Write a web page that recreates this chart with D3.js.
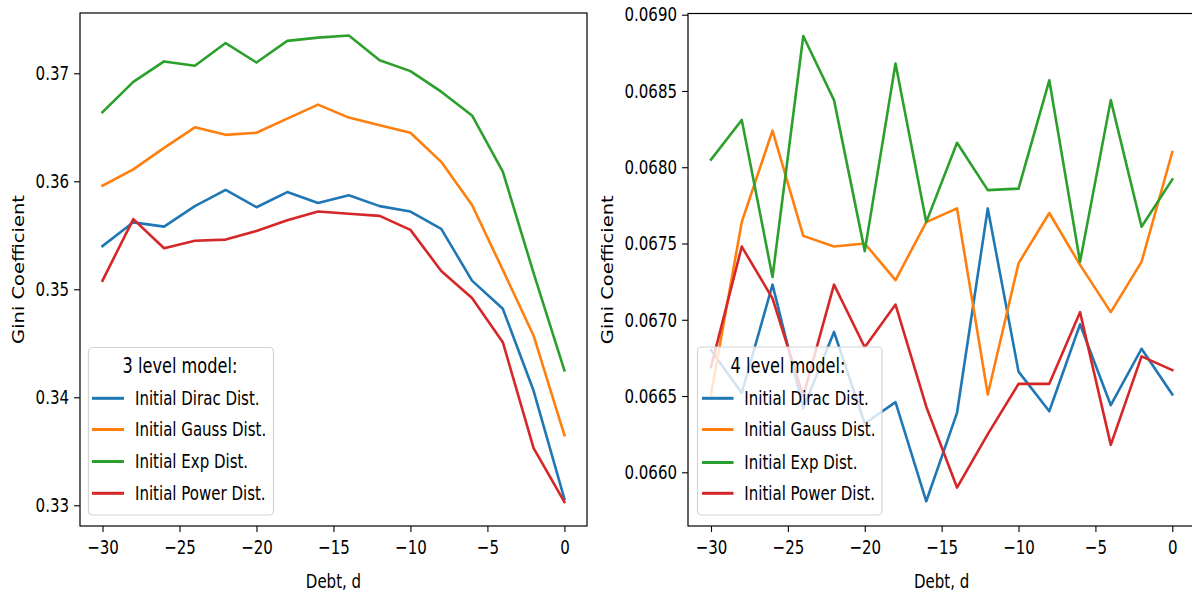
<!DOCTYPE html>
<html>
<head>
<meta charset="utf-8">
<script src="https://cdn.jsdelivr.net/npm/d3@7"></script>
<style>
  html, body { margin: 0; padding: 0; background: #fff; }
  svg { display: block; }
  text { font-family: "DejaVu Sans", sans-serif; fill: #000; }
</style>
</head>
<body>
<svg id="chart" width="1192" height="594"></svg>
<script>
// ---------------- data ----------------
const debt = [-30, -28, -26, -24, -22, -20, -18, -16, -14, -12, -10, -8, -6, -4, -2, 0];
const seriesNames = ["Initial Dirac Dist.", "Initial Gauss Dist.", "Initial Exp Dist.", "Initial Power Dist."];
const seriesColors = ["#1f77b4", "#ff7f0e", "#2ca02c", "#d62728"];

// 3 level model
const dirac3 = [0.3540, 0.3562, 0.3558, 0.3577, 0.3592, 0.3576, 0.3590, 0.3580, 0.3587, 0.3577, 0.3572, 0.3556, 0.3508, 0.3482, 0.3406, 0.3306];
const gauss3 = [0.3596, 0.3611, 0.3631, 0.3650, 0.3643, 0.3645, 0.3658, 0.3671, 0.3659, 0.3652, 0.3645, 0.3618, 0.3578, 0.3518, 0.3457, 0.3365];
const exp3   = [0.3664, 0.3692, 0.3711, 0.3707, 0.3728, 0.3710, 0.3730, 0.3733, 0.3735, 0.3712, 0.3702, 0.3683, 0.3661, 0.3609, 0.3515, 0.3425];
const power3 = [0.3508, 0.3565, 0.3538, 0.3545, 0.3546, 0.3554, 0.3564, 0.3572, 0.3570, 0.3568, 0.3555, 0.3517, 0.3492, 0.3451, 0.3353, 0.3303];

// 4 level model
const dirac4 = [0.06680, 0.06652, 0.06723, 0.06642, 0.06692, 0.06632, 0.06646, 0.06581, 0.06639, 0.06773, 0.06666, 0.06640, 0.06697, 0.06644, 0.06681, 0.06651];
const gauss4 = [0.06651, 0.06764, 0.06824, 0.06755, 0.06748, 0.06750, 0.06726, 0.06764, 0.06773, 0.06651, 0.06737, 0.06770, 0.06736, 0.06705, 0.06738, 0.06810];
const exp4   = [0.06805, 0.06831, 0.06728, 0.06886, 0.06844, 0.06745, 0.06868, 0.06764, 0.06816, 0.06785, 0.06786, 0.06857, 0.06738, 0.06844, 0.06761, 0.06792];
const power4 = [0.06669, 0.06748, 0.06714, 0.06650, 0.06723, 0.06682, 0.06710, 0.06643, 0.06590, 0.06625, 0.06658, 0.06658, 0.06705, 0.06618, 0.06676, 0.06667];

const xTicks = [-30, -25, -20, -15, -10, -5, 0];
const yTicks3 = [0.33, 0.34, 0.35, 0.36, 0.37];
const yTicks4 = [0.0660, 0.0665, 0.0670, 0.0675, 0.0680, 0.0685, 0.0690];
const xLabel = "Debt, d";
const yLabel = "Gini Coefficient";
const legendTitle3 = "3 level model:";
const legendTitle4 = "4 level model:";

// ---------------- drawing ----------------
const SX = 0.77;      // horizontal text squash seen in the reference
const FS = 19.5;      // font size
const FS_TITLE = 21;  // legend title size
const svg = d3.select("#chart");

function squashText(sel) {
  sel.each(function () {
    const t = d3.select(this);
    const x = +t.attr("x") || 0;
    t.attr("x", x / SX).attr("transform", `scale(${SX},1)`);
  });
}

function panel(cfg) {
  const g = svg.append("g");
  const x = d3.scaleLinear().domain([-30, 0]).range(cfg.xRange);
  const y = d3.scaleLinear().domain(cfg.yDomain).range(cfg.yRange);
  const box = cfg.box; // [x0, y0, x1, y1]

  const clipId = "clip" + cfg.id;
  svg.append("clipPath").attr("id", clipId)
    .append("rect").attr("x", box[0]).attr("y", box[1])
    .attr("width", box[2] - box[0]).attr("height", box[3] - box[1]);

  const line = d3.line().x((d, i) => x(debt[i])).y(d => y(d));
  const plot = g.append("g").attr("clip-path", `url(#${clipId})`);
  cfg.series.forEach((s, k) => {
    plot.append("path").datum(s)
      .attr("d", line)
      .attr("fill", "none")
      .attr("stroke", seriesColors[k])
      .attr("stroke-width", 2.6)
      .attr("stroke-linejoin", "round")
      .attr("stroke-linecap", "square");
  });

  // frame
  g.append("rect")
    .attr("x", box[0]).attr("y", box[1])
    .attr("width", box[2] - box[0]).attr("height", box[3] - box[1])
    .attr("fill", "none").attr("stroke", "#000").attr("stroke-width", 1.2);

  // x axis
  const xa = g.append("g").attr("transform", `translate(0,${box[3]})`)
    .call(d3.axisBottom(x).tickValues(xTicks).tickSize(6).tickPadding(8).tickFormat(d3.format("d")));
  xa.select(".domain").remove();
  xa.selectAll("line").attr("stroke", "#000").attr("stroke-width", 1.1);
  xa.selectAll("text").attr("font-size", FS).attr("fill", "#000")
    .style("font-family", "DejaVu Sans, sans-serif");
  squashText(xa.selectAll("text"));

  // y axis
  const ya = g.append("g").attr("transform", `translate(${box[0]},0)`)
    .call(d3.axisLeft(y).tickValues(cfg.yTicks).tickSize(6).tickPadding(5).tickFormat(d3.format(cfg.yFmt)));
  ya.select(".domain").remove();
  ya.selectAll("line").attr("stroke", "#000").attr("stroke-width", 1.1);
  ya.selectAll("text").attr("font-size", FS).attr("fill", "#000")
    .style("font-family", "DejaVu Sans, sans-serif");
  squashText(ya.selectAll("text"));

  // axis labels
  g.append("text")
    .attr("transform", `translate(${(x(-30) + x(0)) / 2},${cfg.xLabelY}) scale(${SX},1)`)
    .attr("text-anchor", "middle").attr("dominant-baseline", "central")
    .attr("font-size", FS).text(xLabel);
  g.append("text")
    .attr("transform", `translate(${cfg.yLabelX},${(box[1] + box[3]) / 2}) scale(${SX},1) rotate(-90)`)
    .attr("text-anchor", "middle").attr("dominant-baseline", "central")
    .attr("font-size", FS).text(yLabel);

  // legend
  const L = cfg.legend;
  const lg = g.append("g");
  lg.append("rect")
    .attr("x", L.x).attr("y", L.y).attr("width", L.w).attr("height", L.h)
    .attr("rx", 4).attr("ry", 4)
    .attr("fill", "#fff").attr("fill-opacity", 0.8)
    .attr("stroke", "#d4d4d4").attr("stroke-width", 1.2);
  lg.append("text")
    .attr("transform", `translate(${L.titleX},${L.titleY}) scale(${SX},1)`)
    .attr("text-anchor", "middle").attr("dominant-baseline", "central")
    .attr("font-size", FS_TITLE).text(cfg.title);
  seriesNames.forEach((name, k) => {
    const yy = L.rowY[k];
    lg.append("line")
      .attr("x1", L.lineX0).attr("x2", L.lineX1).attr("y1", yy).attr("y2", yy)
      .attr("stroke", seriesColors[k]).attr("stroke-width", 3);
    lg.append("text")
      .attr("transform", `translate(${L.textX},${yy}) scale(${SX},1)`)
      .attr("dominant-baseline", "central")
      .attr("font-size", FS).text(name);
  });
}

panel({
  id: "L",
  series: [dirac3, gauss3, exp3, power3],
  xRange: [102.5, 564.4],
  yDomain: [0.33, 0.37], yRange: [505.3, 73.3],
  box: [80, 13, 587, 526],
  yTicks: yTicks3, yFmt: ".2f",
  xLabelY: 581.5, yLabelX: 19,
  title: legendTitle3,
  legend: { x: 88.5, y: 347.5, w: 185, h: 167.5, titleX: 180, titleY: 366,
            rowY: [398.3, 429.5, 461.5, 493.3], lineX0: 92, lineX1: 124, textX: 135 }
});

panel({
  id: "R",
  series: [dirac4, gauss4, exp4, power4],
  xRange: [711, 1172.3],
  yDomain: [0.0660, 0.0690], yRange: [472.3, 14.7],
  box: [688, 13.5, 1196, 526],
  yTicks: yTicks4, yFmt: ".4f",
  xLabelY: 581.5, yLabelX: 607.6,
  title: legendTitle4,
  legend: { x: 697.5, y: 347, w: 184.5, h: 168, titleX: 788, titleY: 366,
            rowY: [398.3, 429.5, 462.5, 493.3], lineX0: 702, lineX1: 733.5, textX: 744.3 }
});
</script>
</body>
</html>
